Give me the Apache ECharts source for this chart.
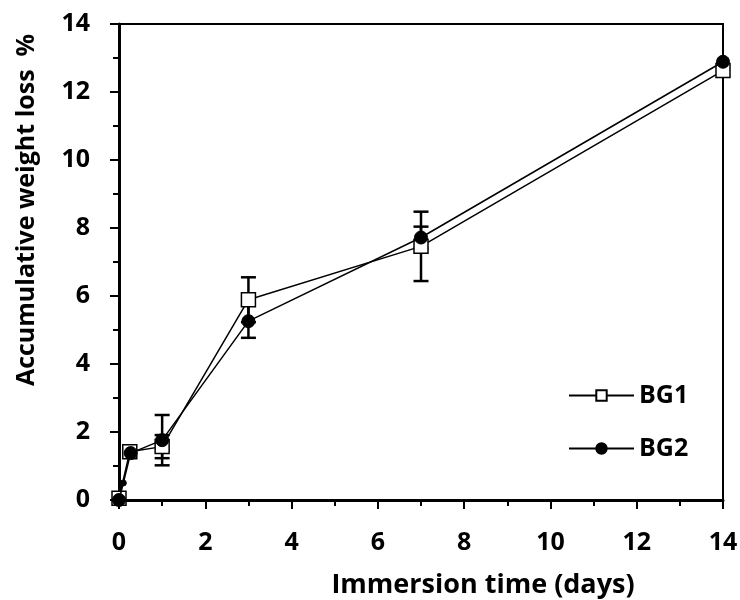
<!DOCTYPE html>
<html>
<head>
<meta charset="utf-8">
<script src="https://cdn.jsdelivr.net/npm/echarts@6/dist/echarts.min.js"></script>
<style>
  html, body { margin: 0; padding: 0; background: #fff; }
  #chart { width: 740px; height: 600px; }
</style>
</head>
<body>
<div id="chart"></div>
<script>
// immersion time (days) and accumulative weight loss (%)
const bg1Days = [0, 0.25, 1, 3, 7, 14]
const bg1Loss = [0.05, 1.42, 1.57, 5.89, 7.46, 12.63]
const bg1Err = [0, 0, 0.34, 0.66, 1.02, 0]

const bg2Days = [0, 0.1, 0.27, 1, 3, 7, 14]
const bg2Loss = [0.0, 0.5, 1.38, 1.76, 5.26, 7.72, 12.89]
const bg2Err = [0, 0, 0, 0.74, 0.49, 0.32, 0]

const xTicks = [0, 2, 4, 6, 8, 10, 12, 14]
const yTicks = [0, 2, 4, 6, 8, 10, 12, 14]

const FONT = '"Open Sans", "Liberation Sans", sans-serif'

const pairs = (xs, ys) => xs.map((x, i) => [x, ys[i]])

// error bar rows: [x, low, high]
const errRows = (xs, ys, es) =>
    xs.map((x, i) => [x, ys[i] - es[i], ys[i] + es[i]]).filter((r, i) => es[i] > 0)

const errorBar = (params, api) => {
    const x = api.value(0)
    const lo = api.coord([x, api.value(1)])
    const hi = api.coord([x, api.value(2)])
    const w = 7.5
    const style = { stroke: '#000', lineWidth: 2.5 }
    return {
        type: 'group',
        children: [
            { type: 'line', shape: { x1: lo[0], y1: lo[1], x2: hi[0], y2: hi[1] }, style },
            { type: 'line', shape: { x1: lo[0] - w, y1: lo[1], x2: lo[0] + w, y2: lo[1] }, style },
            { type: 'line', shape: { x1: hi[0] - w, y1: hi[1], x2: hi[0] + w, y2: hi[1] }, style }
        ]
    }
}

const axisText = { color: '#000', fontFamily: FONT, fontWeight: 'bold', fontSize: 25 }

const option = {
    animation: false,
    backgroundColor: '#fff',
    grid: {
        left: 119, right: 17, top: 24, bottom: 100,
        outerBoundsMode: 'none',
        show: true, borderColor: '#000', borderWidth: 2
    },
    legend: {
        data: ['BG1', 'BG2'],
        orient: 'vertical',
        left: 563,
        top: 378,
        itemWidth: 65,
        itemHeight: 13,
        itemGap: 28,
        textStyle: { color: '#000', fontFamily: FONT, fontWeight: 'bold', fontSize: 25 }
    },
    xAxis: {
        type: 'value',
        min: 0, max: 14, interval: 2,
        name: 'Immersion time (days)',
        nameLocation: 'middle',
        nameGap: 72,
        nameTextStyle: { color: '#000', fontFamily: FONT, fontWeight: 'bold', fontSize: 27, padding: [0, 0, 0, 124] },
        axisLine: { lineStyle: { color: '#000', width: 3 } },
        axisTick: { length: 9, lineStyle: { color: '#000', width: 2 } },
        minorTick: { show: true, splitNumber: 2, length: 6, lineStyle: { color: '#000', width: 2 } },
        axisLabel: { ...axisText, margin: 30, formatter: v => xTicks.includes(v) ? String(v) : '' },
        splitLine: { show: false }
    },
    yAxis: {
        type: 'value',
        min: 0, max: 14, interval: 2,
        name: 'Accumulative weight loss  %',
        nameLocation: 'middle',
        nameGap: 80,
        nameTextStyle: { color: '#000', fontFamily: FONT, fontWeight: 'bold', fontSize: 25, padding: [0, 0, 0, 104] },
        axisLine: { lineStyle: { color: '#000', width: 3 } },
        axisTick: { length: 9, lineStyle: { color: '#000', width: 2 } },
        minorTick: { show: true, splitNumber: 2, length: 6, lineStyle: { color: '#000', width: 2 } },
        axisLabel: { ...axisText, margin: 29, formatter: v => yTicks.includes(v) ? String(v) : '' },
        splitLine: { show: false }
    },
    series: [
        {
            name: 'BG1 err',
            type: 'custom',
            renderItem: errorBar,
            data: errRows(bg1Days, bg1Loss, bg1Err),
            z: 1
        },
        {
            name: 'BG2 err',
            type: 'custom',
            renderItem: errorBar,
            data: errRows(bg2Days, bg2Loss, bg2Err),
            z: 1
        },
        {
            name: 'BG1',
            type: 'line',
            data: pairs(bg1Days, bg1Loss),
            symbol: 'rect',
            symbolSize: 14,
            lineStyle: { color: '#000', width: 1.5 },
            itemStyle: { color: '#fff', borderColor: '#000', borderWidth: 1.5 },
            z: 3
        },
        {
            name: 'BG2',
            type: 'line',
            data: pairs(bg2Days, bg2Loss),
            symbol: 'circle',
            symbolSize: (v, p) => p.dataIndex === 1 ? 6 : 13,
            lineStyle: { color: '#000', width: 1.5 },
            itemStyle: { color: '#000', borderColor: '#000', borderWidth: 1 },
            z: 4
        }
    ]
}

const chart = echarts.init(document.getElementById('chart'))
chart.setOption(option)
window.onresize = () => chart.resize()
</script>
</body>
</html>
